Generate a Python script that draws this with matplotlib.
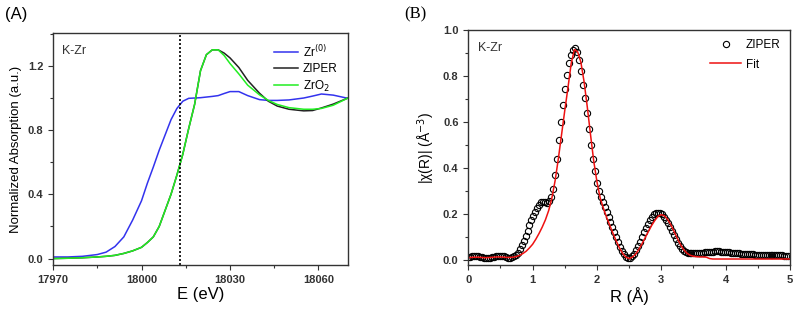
import matplotlib
matplotlib.use("Agg")
import matplotlib.pyplot as plt
import numpy as np
from matplotlib.ticker import MultipleLocator

plt.rcParams["font.family"] = ["Liberation Sans", "DejaVu Sans"]

# -------------------------------------------------------------
# (A) XANES data
# -------------------------------------------------------------
energy = [17970, 17975, 17980, 17985, 17988, 17991, 17994, 17997, 18000, 18002,
          18004, 18006, 18008, 18010, 18012, 18014, 18016, 18018, 18020, 18022,
          18024, 18026, 18028, 18030, 18033, 18036, 18040, 18043, 18046, 18050,
          18055, 18058, 18061, 18065, 18070]

zr_metal = [0.010, 0.010, 0.014, 0.025, 0.040, 0.075, 0.135, 0.240, 0.360, 0.470,
            0.570, 0.675, 0.770, 0.865, 0.935, 0.980, 0.998, 1.000, 1.002, 1.006,
            1.010, 1.015, 1.028, 1.040, 1.040, 1.015, 0.990, 0.985, 0.985, 0.988,
            1.000, 1.012, 1.025, 1.018, 0.998]

ziper_xanes = [0.000, 0.002, 0.005, 0.010, 0.014, 0.020, 0.032, 0.048, 0.070, 0.100,
               0.135, 0.200, 0.300, 0.400, 0.520, 0.650, 0.810, 0.960, 1.170, 1.270,
               1.300, 1.300, 1.280, 1.250, 1.190, 1.110, 1.030, 0.980, 0.950, 0.930,
               0.920, 0.922, 0.938, 0.962, 1.000]

zro2 = [0.000, 0.002, 0.005, 0.010, 0.014, 0.020, 0.032, 0.048, 0.070, 0.100,
        0.135, 0.200, 0.300, 0.400, 0.520, 0.650, 0.810, 0.960, 1.170, 1.270,
        1.300, 1.300, 1.265, 1.215, 1.150, 1.080, 1.020, 0.985, 0.960, 0.940,
        0.930, 0.930, 0.935, 0.955, 1.000]

edge_energy = 18013

# -------------------------------------------------------------
# (B) EXAFS |chi(R)| data (measured, ~0.0307 A grid) and fit
# -------------------------------------------------------------
chi_data = [0.012, 0.013, 0.015, 0.016, 0.017, 0.016, 0.014, 0.012, 0.010, 0.008,
            0.008, 0.009, 0.011, 0.013, 0.015, 0.017, 0.018, 0.017, 0.015, 0.012,
            0.010, 0.010, 0.012, 0.016, 0.022, 0.032, 0.048, 0.065, 0.083, 0.102,
            0.124, 0.150, 0.174, 0.192, 0.207, 0.226, 0.240, 0.250, 0.254, 0.252,
            0.247, 0.255, 0.275, 0.310, 0.370, 0.440, 0.520, 0.600, 0.675, 0.745,
            0.805, 0.855, 0.893, 0.915, 0.920, 0.905, 0.870, 0.820, 0.760, 0.705,
            0.640, 0.570, 0.500, 0.440, 0.385, 0.335, 0.300, 0.272, 0.250, 0.230,
            0.208, 0.187, 0.165, 0.143, 0.120, 0.098, 0.077, 0.057, 0.040, 0.025,
            0.014, 0.009, 0.010, 0.016, 0.027, 0.042, 0.060, 0.080, 0.100, 0.121,
            0.140, 0.158, 0.174, 0.188, 0.198, 0.204, 0.206, 0.204, 0.198, 0.188,
            0.175, 0.160, 0.143, 0.125, 0.107, 0.090, 0.074, 0.060, 0.048, 0.040,
            0.034, 0.031, 0.030, 0.029, 0.028, 0.028, 0.029, 0.030, 0.031, 0.032,
            0.033, 0.034, 0.035, 0.036, 0.036, 0.037, 0.037, 0.037, 0.036, 0.036,
            0.035, 0.034, 0.033, 0.032, 0.031, 0.030, 0.029, 0.028, 0.027, 0.026,
            0.025, 0.025, 0.024, 0.024, 0.024, 0.023, 0.023, 0.023, 0.022, 0.022,
            0.022, 0.022, 0.021, 0.021, 0.021, 0.021, 0.020, 0.020, 0.020, 0.020,
            0.019, 0.019, 0.019]
r_data = np.arange(len(chi_data)) * 0.0307

chi_fit = [0.010, 0.011, 0.012, 0.012, 0.011, 0.010, 0.010, 0.011, 0.012, 0.013,
           0.013, 0.012, 0.011, 0.011, 0.012, 0.015, 0.020, 0.028, 0.038, 0.052,
           0.068, 0.090, 0.115, 0.143, 0.175, 0.215, 0.270, 0.345, 0.440, 0.545,
           0.650, 0.750, 0.855, 0.915, 0.905, 0.860, 0.775, 0.665, 0.545, 0.430,
           0.340, 0.270, 0.225, 0.185, 0.150, 0.115, 0.082, 0.052, 0.028, 0.012,
           0.006, 0.012, 0.025, 0.045, 0.070, 0.097, 0.124, 0.150, 0.172, 0.190,
           0.197, 0.192, 0.176, 0.152, 0.123, 0.093, 0.066, 0.044, 0.029, 0.020,
           0.016, 0.014, 0.013, 0.013, 0.012, 0.006, 0.004, 0.004, 0.004, 0.004,
           0.004, 0.004, 0.004, 0.004, 0.004, 0.004, 0.004, 0.004, 0.004, 0.004,
           0.004, 0.004, 0.004, 0.004, 0.004, 0.004, 0.004, 0.004, 0.004, 0.004,
           0.004]
r_fit = np.arange(len(chi_fit)) * 0.05


def style_axes(ax):
    for s in ax.spines.values():
        s.set_linewidth(1.0)
        s.set_color("#333333")
    ax.tick_params(which="both", direction="out", top=False, right=False,
                   labelsize=8, width=0.8, color="#333333")
    ax.tick_params(which="major", length=3.5)
    ax.tick_params(which="minor", length=2)
    for lab in ax.get_xticklabels() + ax.get_yticklabels():
        lab.set_fontweight("bold")
        lab.set_color("#333333")


fig = plt.figure(figsize=(7.95, 3.13), dpi=100)

# -------------------------------------------------------------
# Panel A
# -------------------------------------------------------------
axA = fig.add_axes([0.0667, 0.1534, 0.371, 0.7412])
axA.plot(energy, zr_metal, color="#3333ee", lw=1.1, label="Zr$^{(0)}$")
axA.plot(energy, ziper_xanes, color="#222222", lw=1.1, label="ZIPER")
axA.plot(energy, zro2, color="#22ee22", lw=1.1, label="ZrO$_2$")
axA.axvline(edge_energy, color="black", lw=1.2, ls=(0, (1.2, 1.2)))
axA.set_xlim(17970, 18070)
axA.set_ylim(-0.04, 1.405)
axA.xaxis.set_major_locator(MultipleLocator(30))
axA.xaxis.set_minor_locator(MultipleLocator(15))
axA.yaxis.set_major_locator(MultipleLocator(0.4))
axA.yaxis.set_minor_locator(MultipleLocator(0.2))
axA.set_xlabel("E (eV)", fontsize=12, labelpad=2)
axA.set_ylabel("Normalized Absorption (a.u.)", fontsize=9.5, labelpad=4)
axA.text(0.03, 0.95, "K-Zr", transform=axA.transAxes, fontsize=9,
         va="top", ha="left", color="#333333")
axA.legend(loc="upper right", frameon=False, fontsize=8.5, handlelength=2.0,
           labelspacing=0.3, borderaxespad=0.5, handletextpad=0.4)
style_axes(axA)
fig.text(0.006, 0.955, "(A)", fontsize=12, va="center", ha="left")

# -------------------------------------------------------------
# Panel B
# -------------------------------------------------------------
axB = fig.add_axes([0.589, 0.1534, 0.4047, 0.7508])
axB.plot(r_data, chi_data, ls="none", marker="o", ms=4.5, mfc="none",
         mec="black", mew=0.8, label="ZIPER")
axB.plot(r_fit, chi_fit, color="#ee1111", lw=1.1, label="Fit")
axB.set_xlim(0, 5)
axB.set_ylim(-0.022, 1.0)
axB.xaxis.set_major_locator(MultipleLocator(1))
axB.xaxis.set_minor_locator(MultipleLocator(0.5))
axB.yaxis.set_major_locator(MultipleLocator(0.2))
axB.yaxis.set_minor_locator(MultipleLocator(0.1))
axB.set_xlabel("R (Å)", fontsize=12, labelpad=2)
axB.set_ylabel("|χ(R)| (Å$^{-3}$)", fontsize=10, labelpad=4)
axB.text(0.03, 0.95, "K-Zr", transform=axB.transAxes, fontsize=9,
         va="top", ha="left", color="#333333")
axB.legend(loc="upper right", frameon=False, fontsize=8.5, handlelength=2.6,
           labelspacing=0.6, borderaxespad=0.4, handletextpad=0.4)
style_axes(axB)
fig.text(0.508, 0.955, "(B)", fontsize=12, va="center", ha="left",
         family=["Liberation Serif", "DejaVu Serif"])

fig.savefig("out.png", dpi=100)
